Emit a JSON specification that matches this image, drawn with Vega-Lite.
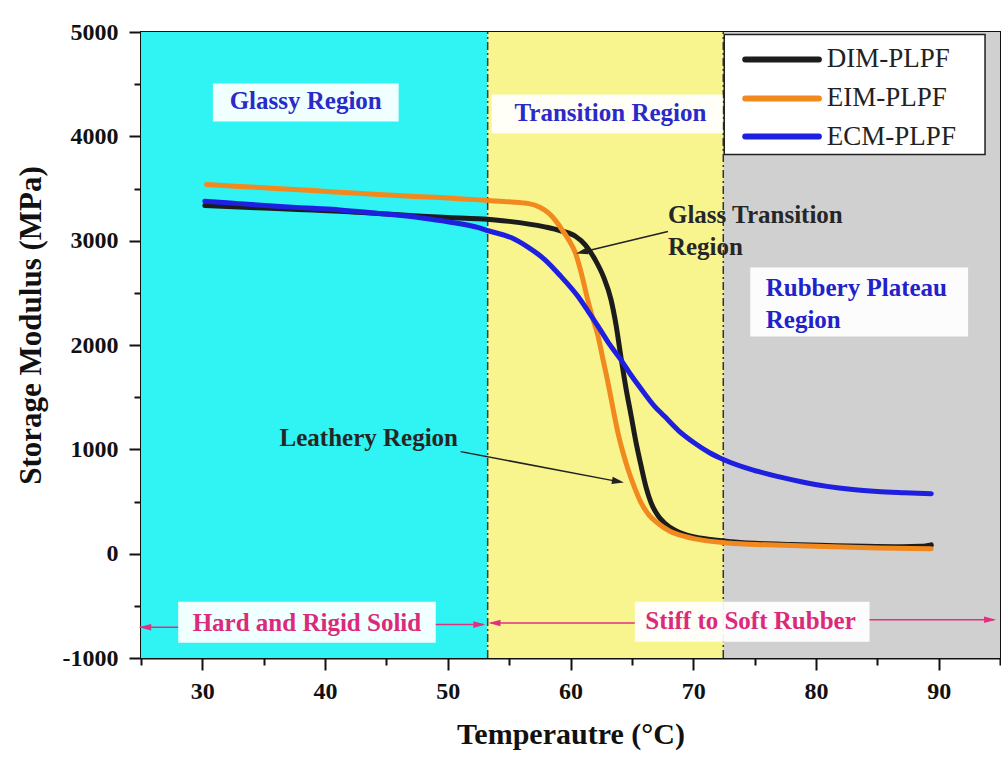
{
  "$schema": "https://vega.github.io/schema/vega-lite/v6.json",
  "width": 859,
  "height": 626,
  "autosize": {"type": "none"},
  "padding": {"left": 141, "top": 32, "right": 1, "bottom": 107},
  "background": "white",
  "config": {
    "view": {"stroke": "#111", "strokeWidth": 2},
    "font": "Liberation Serif",
    "axis": {
      "labelFont": "Liberation Serif", "labelFontWeight": "bold", "labelFontSize": 24, "labelColor": "#111",
      "titleFont": "Liberation Serif", "titleFontWeight": "bold", "titleColor": "#111",
      "domainColor": "#111", "domainWidth": 2, "tickColor": "#111", "tickWidth": 2, "grid": false
    }
  },
  "datasets": {
    "curves": [
      {"s":"DIM-PLPF","T":30.2,"E":3336},{"s":"DIM-PLPF","T":33,"E":3322},{"s":"DIM-PLPF","T":36,"E":3308},{"s":"DIM-PLPF","T":39,"E":3293},{"s":"DIM-PLPF","T":41.2,"E":3282},{"s":"DIM-PLPF","T":44,"E":3262},{"s":"DIM-PLPF","T":47.9,"E":3234},{"s":"DIM-PLPF","T":50,"E":3222},{"s":"DIM-PLPF","T":52.5,"E":3210},{"s":"DIM-PLPF","T":55,"E":3185},{"s":"DIM-PLPF","T":57.9,"E":3132},{"s":"DIM-PLPF","T":59.2,"E":3095},{"s":"DIM-PLPF","T":60.4,"E":3042},{"s":"DIM-PLPF","T":61.2,"E":2960},{"s":"DIM-PLPF","T":62.0,"E":2819},{"s":"DIM-PLPF","T":62.7,"E":2650},{"s":"DIM-PLPF","T":63.3,"E":2435},{"s":"DIM-PLPF","T":63.7,"E":2200},{"s":"DIM-PLPF","T":64.1,"E":1892},{"s":"DIM-PLPF","T":64.5,"E":1600},{"s":"DIM-PLPF","T":64.95,"E":1316},{"s":"DIM-PLPF","T":65.35,"E":1060},{"s":"DIM-PLPF","T":65.76,"E":837},{"s":"DIM-PLPF","T":66.15,"E":640},{"s":"DIM-PLPF","T":66.57,"E":486},{"s":"DIM-PLPF","T":67.1,"E":370},{"s":"DIM-PLPF","T":67.66,"E":294},{"s":"DIM-PLPF","T":68.5,"E":225},{"s":"DIM-PLPF","T":69.3,"E":185},{"s":"DIM-PLPF","T":70.3,"E":155},{"s":"DIM-PLPF","T":71.4,"E":135},{"s":"DIM-PLPF","T":73,"E":115},{"s":"DIM-PLPF","T":75,"E":100},{"s":"DIM-PLPF","T":78,"E":88},{"s":"DIM-PLPF","T":81,"E":78},{"s":"DIM-PLPF","T":84,"E":70},{"s":"DIM-PLPF","T":87,"E":66},{"s":"DIM-PLPF","T":88.6,"E":70},{"s":"DIM-PLPF","T":89.4,"E":84},
      {"s":"EIM-PLPF","T":30.35,"E":3538},{"s":"EIM-PLPF","T":33,"E":3520},{"s":"EIM-PLPF","T":36,"E":3500},{"s":"EIM-PLPF","T":39,"E":3480},{"s":"EIM-PLPF","T":41.2,"E":3464},{"s":"EIM-PLPF","T":44,"E":3445},{"s":"EIM-PLPF","T":47,"E":3425},{"s":"EIM-PLPF","T":50,"E":3410},{"s":"EIM-PLPF","T":53.3,"E":3385},{"s":"EIM-PLPF","T":55,"E":3372},{"s":"EIM-PLPF","T":56.6,"E":3355},{"s":"EIM-PLPF","T":57.5,"E":3320},{"s":"EIM-PLPF","T":58.2,"E":3266},{"s":"EIM-PLPF","T":58.8,"E":3190},{"s":"EIM-PLPF","T":59.3,"E":3106},{"s":"EIM-PLPF","T":59.9,"E":3000},{"s":"EIM-PLPF","T":60.4,"E":2883},{"s":"EIM-PLPF","T":60.9,"E":2680},{"s":"EIM-PLPF","T":61.4,"E":2435},{"s":"EIM-PLPF","T":61.8,"E":2260},{"s":"EIM-PLPF","T":62.25,"E":2083},{"s":"EIM-PLPF","T":62.65,"E":1860},{"s":"EIM-PLPF","T":63.06,"E":1636},{"s":"EIM-PLPF","T":63.45,"E":1400},{"s":"EIM-PLPF","T":63.87,"E":1157},{"s":"EIM-PLPF","T":64.3,"E":960},{"s":"EIM-PLPF","T":64.7,"E":805},{"s":"EIM-PLPF","T":65.2,"E":640},{"s":"EIM-PLPF","T":65.76,"E":486},{"s":"EIM-PLPF","T":66.4,"E":370},{"s":"EIM-PLPF","T":67.1,"E":294},{"s":"EIM-PLPF","T":68.1,"E":215},{"s":"EIM-PLPF","T":69.3,"E":166},{"s":"EIM-PLPF","T":71,"E":125},{"s":"EIM-PLPF","T":72.8,"E":103},{"s":"EIM-PLPF","T":76,"E":85},{"s":"EIM-PLPF","T":80,"E":70},{"s":"EIM-PLPF","T":85,"E":55},{"s":"EIM-PLPF","T":89.4,"E":48},
      {"s":"ECM-PLPF","T":30.2,"E":3378},{"s":"ECM-PLPF","T":33,"E":3355},{"s":"ECM-PLPF","T":36,"E":3330},{"s":"ECM-PLPF","T":39,"E":3310},{"s":"ECM-PLPF","T":41.2,"E":3295},{"s":"ECM-PLPF","T":44,"E":3265},{"s":"ECM-PLPF","T":47.9,"E":3218},{"s":"ECM-PLPF","T":50,"E":3182},{"s":"ECM-PLPF","T":52.5,"E":3125},{"s":"ECM-PLPF","T":53.3,"E":3095},{"s":"ECM-PLPF","T":55.2,"E":3027},{"s":"ECM-PLPF","T":56.5,"E":2940},{"s":"ECM-PLPF","T":57.9,"E":2819},{"s":"ECM-PLPF","T":59.2,"E":2660},{"s":"ECM-PLPF","T":60.6,"E":2467},{"s":"ECM-PLPF","T":61.4,"E":2330},{"s":"ECM-PLPF","T":62.25,"E":2179},{"s":"ECM-PLPF","T":63.1,"E":2020},{"s":"ECM-PLPF","T":64.1,"E":1860},{"s":"ECM-PLPF","T":65.0,"E":1700},{"s":"ECM-PLPF","T":66.0,"E":1541},{"s":"ECM-PLPF","T":66.8,"E":1420},{"s":"ECM-PLPF","T":67.66,"E":1316},{"s":"ECM-PLPF","T":68.8,"E":1180},{"s":"ECM-PLPF","T":70.1,"E":1061},{"s":"ECM-PLPF","T":71.3,"E":970},{"s":"ECM-PLPF","T":72.5,"E":901},{"s":"ECM-PLPF","T":74.5,"E":815},{"s":"ECM-PLPF","T":76.85,"E":741},{"s":"ECM-PLPF","T":78.8,"E":690},{"s":"ECM-PLPF","T":80.9,"E":645},{"s":"ECM-PLPF","T":83,"E":615},{"s":"ECM-PLPF","T":85,"E":597},{"s":"ECM-PLPF","T":87.2,"E":585},{"s":"ECM-PLPF","T":89.4,"E":575}
    ],
    "regions": [
      {"region":"glassy","T":25,"T2":53.25},
      {"region":"transition","T":53.25,"T2":72.45},
      {"region":"rubbery","T":72.45,"T2":95}
    ],
    "bounds": [{"T":53.25},{"T":72.45}],
    "boxes": [
      {"T":30.86,"T2":46.0,"E":4142,"E2":4506},
      {"T":53.57,"T2":72.4,"E":4026,"E2":4401},
      {"T":74.65,"T2":92.4,"E":2081,"E2":2742},
      {"T":28.03,"T2":49.02,"E":-853,"E2":-460},
      {"T":65.24,"T2":84.37,"E":-844,"E2":-460}
    ],
    "legendbox": [{"T":72.53,"T2":93.78,"E":3826,"E2":4976}],
    "legendrows": [
      {"s":"DIM-PLPF","T":74.24,"T2":80.24,"TL":80.89,"E":4737},
      {"s":"EIM-PLPF","T":74.24,"T2":80.24,"TL":80.89,"E":4363},
      {"s":"ECM-PLPF","T":74.24,"T2":80.24,"TL":80.89,"E":3998}
    ],
    "notes": [
      {"kind":"blueC","text":"Glassy Region","T":38.42,"E":4334},
      {"kind":"blueC","text":"Transition Region","T":63.26,"E":4228},
      {"kind":"blueL","text":"Rubbery Plateau","T":75.91,"E":2550},
      {"kind":"blueL","text":"Region","T":75.91,"E":2244},
      {"kind":"darkL","text":"Glass Transition","T":67.94,"E":3250},
      {"kind":"darkL","text":"Region","T":67.94,"E":2943},
      {"kind":"darkL","text":"Leathery Region","T":36.29,"E":1112},
      {"kind":"magC","text":"Hard and Rigid Solid","T":38.52,"E":-665},
      {"kind":"magC","text":"Stiff to Soft Rubber","T":74.67,"E":-649}
    ],
    "arrows": [
      {"kind":"mag","T":24.9,"E":-705,"T2":28.03,"E2":-705},
      {"kind":"mag","T":49.02,"E":-680,"T2":52.9,"E2":-680},
      {"kind":"mag","T":53.5,"E":-665,"T2":65.24,"E2":-665},
      {"kind":"mag","T":84.37,"E":-633,"T2":94.5,"E2":-633},
      {"kind":"dark","T":67.94,"E":3087,"T2":60.9,"E2":2889},
      {"kind":"dark","T":51.05,"E":978,"T2":63.8,"E2":693}
    ],
    "heads": [
      {"dir":"left","T":24.85,"E":-705},
      {"dir":"right","T":53.06,"E":-680},
      {"dir":"left","T":53.32,"E":-665},
      {"dir":"right","T":94.68,"E":-633},
      {"dir":"glass","T":60.45,"E":2876},
      {"dir":"leather","T":64.35,"E":681}
    ]
  },
  "layer": [
    {
      "data": {"name": "regions"},
      "mark": {"type": "rect"},
      "encoding": {
        "x": {"field": "T", "type": "quantitative", "scale": {"domain": [25, 95], "nice": false, "zero": false}},
        "x2": {"field": "T2"},
        "y": {"datum": -1000, "type": "quantitative", "scale": {"domain": [-1000, 5000], "nice": false, "zero": false}},
        "y2": {"datum": 5000},
        "fill": {"field": "region", "type": "nominal", "scale": {"domain": ["glassy", "transition", "rubbery"], "range": ["#30f3f3", "#f8f48e", "#d0d0d0"]}, "legend": null}
      }
    },
    {
      "data": {"name": "bounds"},
      "mark": {"type": "rule", "color": "#333", "strokeWidth": 1.5, "strokeDash": [8, 3, 2, 3]},
      "encoding": {
        "x": {"field": "T", "type": "quantitative"},
        "y": {"datum": -1000, "type": "quantitative"},
        "y2": {"datum": 5000}
      }
    },
    {
      "data": {"name": "boxes"},
      "mark": {"type": "rect", "fill": "white", "opacity": 0.93},
      "encoding": {
        "x": {"field": "T", "type": "quantitative"},
        "x2": {"field": "T2"},
        "y": {"field": "E", "type": "quantitative"},
        "y2": {"field": "E2"}
      }
    },
    {
      "data": {"name": "legendbox"},
      "mark": {"type": "rect", "fill": "white", "stroke": "#222", "strokeWidth": 1.5},
      "encoding": {
        "x": {"field": "T", "type": "quantitative"},
        "x2": {"field": "T2"},
        "y": {"field": "E", "type": "quantitative"},
        "y2": {"field": "E2"}
      }
    },
    {
      "data": {"name": "curves"},
      "mark": {"type": "line", "strokeWidth": 5, "interpolate": "monotone", "strokeCap": "round"},
      "encoding": {
        "x": {"field": "T", "type": "quantitative", "scale": {"domain": [25, 95], "nice": false, "zero": false},
          "axis": {"values": [25,30,35,40,45,50,55,60,65,70,75,80,85,90,95], "labelExpr": "datum.value % 10 === 0 ? '' + datum.value : ''",
            "title": "Temperautre (°C)", "titleFontSize": 30, "titleY": 85, "titleBaseline": "alphabetic",
            "tickSize": {"condition": {"test": "datum.value % 10 !== 0", "value": 7}, "value": 12}, "labelPadding": 9}},
        "y": {"field": "E", "type": "quantitative", "scale": {"domain": [-1000, 5000], "nice": false, "zero": false},
          "axis": {"values": [-1000,-500,0,500,1000,1500,2000,2500,3000,3500,4000,4500,5000], "labelExpr": "datum.value % 1000 === 0 ? '' + datum.value : ''",
            "title": "Storage Modulus (MPa)", "titleFontSize": 31, "titleX": -101, "titleY": 293, "titleBaseline": "alphabetic", "titleAlign": "center",
            "tickSize": {"condition": {"test": "datum.value % 1000 !== 0", "value": 7}, "value": 12}, "labelPadding": 11}},
        "color": {"field": "s", "type": "nominal", "scale": {"domain": ["DIM-PLPF", "EIM-PLPF", "ECM-PLPF"], "range": ["#1c1c1c", "#f2891f", "#1f1fe0"]}, "legend": null},
        "order": {"field": "T", "type": "quantitative"}
      }
    },
    {
      "data": {"name": "legendrows"},
      "mark": {"type": "rule", "strokeWidth": 6, "strokeCap": "round"},
      "encoding": {
        "x": {"field": "T", "type": "quantitative"},
        "x2": {"field": "T2"},
        "y": {"field": "E", "type": "quantitative"},
        "color": {"field": "s", "type": "nominal", "legend": null}
      }
    },
    {
      "data": {"name": "legendrows"},
      "mark": {"type": "text", "align": "left", "baseline": "middle", "font": "Liberation Serif", "fontSize": 27, "color": "#222"},
      "encoding": {
        "x": {"field": "TL", "type": "quantitative"},
        "y": {"field": "E", "type": "quantitative"},
        "text": {"field": "s"}
      }
    },
    {
      "data": {"name": "arrows"},
      "transform": [{"filter": "datum.kind === 'mag'"}],
      "mark": {"type": "rule", "color": "#e0307f", "strokeWidth": 1.5},
      "encoding": {
        "x": {"field": "T", "type": "quantitative"},
        "x2": {"field": "T2"},
        "y": {"field": "E", "type": "quantitative"},
        "y2": {"field": "E2"}
      }
    },
    {
      "data": {"name": "arrows"},
      "transform": [{"filter": "datum.kind === 'dark'"}],
      "mark": {"type": "rule", "color": "#222", "strokeWidth": 1.5},
      "encoding": {
        "x": {"field": "T", "type": "quantitative"},
        "x2": {"field": "T2"},
        "y": {"field": "E", "type": "quantitative"},
        "y2": {"field": "E2"}
      }
    },
    {
      "data": {"name": "heads"},
      "transform": [{"filter": "datum.dir === 'left'"}],
      "mark": {"type": "point", "shape": "M0,0L-2,-0.55L-2,0.55Z", "filled": true, "color": "#e0307f", "size": 144, "angle": 180, "opacity": 1},
      "encoding": {
        "x": {"field": "T", "type": "quantitative"},
        "y": {"field": "E", "type": "quantitative"}
      }
    },
    {
      "data": {"name": "heads"},
      "transform": [{"filter": "datum.dir === 'right'"}],
      "mark": {"type": "point", "shape": "M0,0L-2,-0.55L-2,0.55Z", "filled": true, "color": "#e0307f", "size": 144, "angle": 0, "opacity": 1},
      "encoding": {
        "x": {"field": "T", "type": "quantitative"},
        "y": {"field": "E", "type": "quantitative"}
      }
    },
    {
      "data": {"name": "heads"},
      "transform": [{"filter": "datum.dir === 'glass'"}],
      "mark": {"type": "point", "shape": "M0,0L-2,-0.6L-2,0.6Z", "filled": true, "color": "#222", "size": 144, "angle": 166.5, "opacity": 1},
      "encoding": {
        "x": {"field": "T", "type": "quantitative"},
        "y": {"field": "E", "type": "quantitative"}
      }
    },
    {
      "data": {"name": "heads"},
      "transform": [{"filter": "datum.dir === 'leather'"}],
      "mark": {"type": "point", "shape": "M0,0L-2,-0.6L-2,0.6Z", "filled": true, "color": "#222", "size": 144, "angle": 10.7, "opacity": 1},
      "encoding": {
        "x": {"field": "T", "type": "quantitative"},
        "y": {"field": "E", "type": "quantitative"}
      }
    },
    {
      "data": {"name": "notes"},
      "transform": [{"filter": "datum.kind === 'blueC'"}],
      "mark": {"type": "text", "align": "center", "baseline": "middle", "font": "Liberation Serif", "fontWeight": "bold", "fontSize": 25, "color": "#2a2ac8"},
      "encoding": {
        "x": {"field": "T", "type": "quantitative"},
        "y": {"field": "E", "type": "quantitative"},
        "text": {"field": "text"}
      }
    },
    {
      "data": {"name": "notes"},
      "transform": [{"filter": "datum.kind === 'blueL'"}],
      "mark": {"type": "text", "align": "left", "baseline": "middle", "font": "Liberation Serif", "fontWeight": "bold", "fontSize": 25, "color": "#2222cc"},
      "encoding": {
        "x": {"field": "T", "type": "quantitative"},
        "y": {"field": "E", "type": "quantitative"},
        "text": {"field": "text"}
      }
    },
    {
      "data": {"name": "notes"},
      "transform": [{"filter": "datum.kind === 'darkL'"}],
      "mark": {"type": "text", "align": "left", "baseline": "middle", "font": "Liberation Serif", "fontWeight": "bold", "fontSize": 25, "color": "#262626"},
      "encoding": {
        "x": {"field": "T", "type": "quantitative"},
        "y": {"field": "E", "type": "quantitative"},
        "text": {"field": "text"}
      }
    },
    {
      "data": {"name": "notes"},
      "transform": [{"filter": "datum.kind === 'magC'"}],
      "mark": {"type": "text", "align": "center", "baseline": "middle", "font": "Liberation Serif", "fontWeight": "bold", "fontSize": 25, "color": "#dc2a7a"},
      "encoding": {
        "x": {"field": "T", "type": "quantitative"},
        "y": {"field": "E", "type": "quantitative"},
        "text": {"field": "text"}
      }
    }
  ]
}
